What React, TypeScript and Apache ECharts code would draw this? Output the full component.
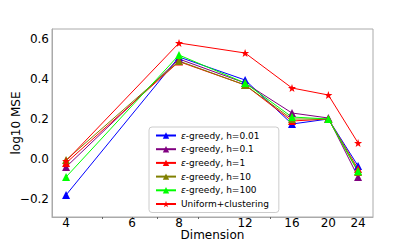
import React, { useEffect, useRef } from "react";
import * as echarts from "echarts";

const dims = [4, 8, 12, 16, 20, 24];
const xTicks = [4, 6, 8, 12, 16, 20, 24];
const xMinorTicks = [4, 5, 6, 7, 9, 14];
const yTicks = [-0.2, 0, 0.2, 0.4, 0.6];
const h001 = [-0.18, 0.51, 0.395, 0.175, 0.2, -0.035];
const h01 = [-0.04, 0.5, 0.38, 0.23, 0.205, -0.09];
const h1 = [-0.02, 0.487, 0.37, 0.19, 0.2, -0.05];
const h10 = [-0.005, 0.49, 0.37, 0.2, 0.2, -0.065];
const h100 = [-0.09, 0.52, 0.38, 0.21, 0.2, -0.06];
const uniform = [-0.01, 0.58, 0.53, 0.355, 0.32, 0.08];

const STAR =
  "path://M0,-10 L2.35,-3.24 L9.51,-3.09 L3.8,1.24 L5.88,8.09 L0,4 L-5.88,8.09 L-3.8,1.24 L-9.51,-3.09 L-2.35,-3.24 Z";

const seriesDefs = [
  { name: "{i|ε}-greedy, h=0.01", data: h001, color: "#0000ff", symbol: "triangle" },
  { name: "{i|ε}-greedy, h=0.1", data: h01, color: "#800080", symbol: "triangle" },
  { name: "{i|ε}-greedy, h=1", data: h1, color: "#ff0000", symbol: "triangle" },
  { name: "{i|ε}-greedy, h=10", data: h10, color: "#808000", symbol: "triangle" },
  { name: "{i|ε}-greedy, h=100", data: h100, color: "#00ff00", symbol: "triangle" },
  { name: "Uniform+clustering", data: uniform, color: "#ff0000", symbol: STAR },
];

const font = "DejaVu Sans";

export default function App() {
  const ref = useRef<HTMLDivElement>(null);
  useEffect(() => {
    document.body.style.margin = "0";
    const chart = echarts.init(ref.current!, null, { renderer: "svg" });
    const logAxisBase = {
      type: "log",
      logBase: 10,
      min: 3.67,
      max: 26.3,
      splitLine: { show: false },
      minorTick: { show: false },
    };
    chart.setOption({
      animation: false,
      grid: {
        left: 52,
        top: 29,
        right: 42,
        bottom: 27,
        outerBoundsMode: "none",
        containLabel: false,
        show: true,
        borderColor: "#aaaaaa",
        borderWidth: 1,
        backgroundColor: "transparent",
      },
      xAxis: [
        {
          ...logAxisBase,
          name: "Dimension",
          nameLocation: "middle",
          nameGap: 12,
          nameMoveOverlap: false,
          nameTextStyle: { fontFamily: font, fontSize: 12, color: "#000" },
          axisLine: { onZero: false, lineStyle: { color: "#aaaaaa", width: 1 } },
          axisTick: { show: false },
          axisLabel: {
            customValues: xTicks,
            fontFamily: font,
            fontSize: 12,
            color: "#000",
            margin: 0,
            formatter: (v: number) => String(Math.round(v)),
          },
        },
        {
          ...logAxisBase,
          position: "bottom",
          axisLine: { show: false, onZero: false },
          axisLabel: { show: false },
          axisTick: {
            show: true,
            customValues: xMinorTicks,
            length: 2,
            lineStyle: { color: "#666", width: 1 },
          },
        },
      ],
      yAxis: {
        type: "value",
        min: -0.29,
        max: 0.65,
        name: "log10 MSE",
        nameLocation: "middle",
        nameGap: 30,
        nameMoveOverlap: false,
        nameTextStyle: { fontFamily: font, fontSize: 12, color: "#000" },
        axisLine: { show: true, lineStyle: { color: "#aaaaaa", width: 1 } },
        axisTick: { show: false },
        splitLine: { show: false },
        axisLabel: {
          customValues: yTicks,
          fontFamily: font,
          fontSize: 12,
          color: "#000",
          margin: 3,
          formatter: (v: number) => (v < 0 ? "\u2212" + Math.abs(v).toFixed(1) : v.toFixed(1)),
        },
      },
      legend: {
        orient: "vertical",
        left: 149,
        top: 127,
        padding: [3, 10, 3, 6],
        itemGap: 2.7,
        itemWidth: 20,
        itemHeight: 8,
        backgroundColor: "#fff",
        borderColor: "#cccccc",
        borderWidth: 1,
        borderRadius: 3,
        textStyle: {
          fontFamily: font,
          fontSize: 9,
          lineHeight: 11,
          color: "#000",
          rich: { i: { fontFamily: font, fontSize: 9, lineHeight: 11, fontStyle: "italic", color: "#000" } },
        },
        data: seriesDefs.map((s) => s.name),
      },
      series: seriesDefs.map((s) => ({
        name: s.name,
        type: "line",
        xAxisIndex: 0,
        data: dims.map((d, i) => [d, s.data[i]]),
        symbol: s.symbol,
        symbolSize: 8,
        showAllSymbol: true,
        lineStyle: { color: s.color, width: 1 },
        itemStyle: { color: s.color },
        emphasis: { disabled: true },
      })),
    });
    return () => chart.dispose();
  }, []);
  return <div ref={ref} style={{ width: 415, height: 244 }} />;
}
